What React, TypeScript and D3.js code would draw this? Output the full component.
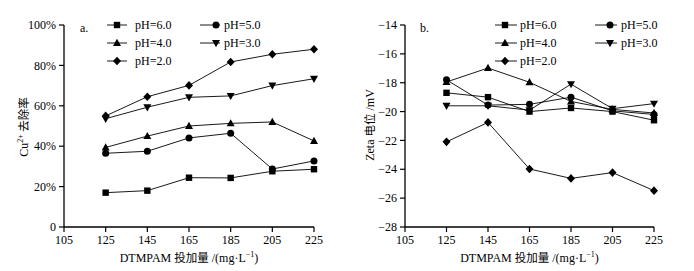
import React from "react";
import * as d3 from "d3";

const doses = [125, 145, 165, 185, 205, 225];
const xTicks = [105, 125, 145, 165, 185, 205, 225];
const leftYTicks = [0, 20, 40, 60, 80, 100];
const rightYTicks = [-28, -26, -24, -22, -20, -18, -16, -14];

const seriesNames = ["pH=6.0", "pH=5.0", "pH=4.0", "pH=3.0", "pH=2.0"];
const seriesMarkers = ["square", "circle", "triangle", "triangleDown", "diamond"];

// Cu2+ removal (%)
const removal_pH6 = [17.0, 18.0, 24.4, 24.3, 27.6, 28.6];
const removal_pH5 = [36.5, 37.5, 44.1, 46.4, 28.7, 32.7];
const removal_pH4 = [39.4, 45.0, 50.0, 51.3, 52.0, 42.6];
const removal_pH3 = [53.6, 59.3, 64.2, 64.9, 70.0, 73.4];
const removal_pH2 = [55.0, 64.5, 70.1, 81.7, 85.5, 88.0];

// Zeta potential (mV)
const zeta_pH6 = [-18.7, -19.0, -20.0, -19.75, -20.0, -20.6];
const zeta_pH5 = [-17.8, -19.55, -19.5, -19.0, -19.95, -20.2];
const zeta_pH4 = [-17.95, -16.98, -17.97, -19.3, -19.85, -20.1];
const zeta_pH3 = [-19.6, -19.6, -19.9, -18.1, -19.8, -19.45];
const zeta_pH2 = [-22.1, -20.75, -23.98, -24.63, -24.23, -25.48];

const removalSeries = [removal_pH6, removal_pH5, removal_pH4, removal_pH3, removal_pH2];
const zetaSeries = [zeta_pH6, zeta_pH5, zeta_pH4, zeta_pH3, zeta_pH2];

const FONT = "'Liberation Serif', 'Times New Roman', serif";
const CJK = "'Noto Sans CJK SC', 'Liberation Serif', serif";

function Marker({ type, x, y }: { type: string; x: number; y: number }) {
  const c = "#000";
  if (type === "square") return <rect x={x - 3.2} y={y - 3.2} width={6.4} height={6.4} fill={c} />;
  if (type === "circle") return <circle cx={x} cy={y} r={3.5} fill={c} />;
  if (type === "triangle")
    return <path d={`M${x},${y - 4.2}L${x + 4},${y + 3}L${x - 4},${y + 3}Z`} fill={c} />;
  if (type === "triangleDown")
    return <path d={`M${x},${y + 4.2}L${x + 4},${y - 3}L${x - 4},${y - 3}Z`} fill={c} />;
  return <path d={`M${x},${y - 4.3}L${x + 4},${y}L${x},${y + 4.3}L${x - 4},${y}Z`} fill={c} />;
}

type PanelProps = {
  x0: number;
  x1: number;
  yDomain: [number, number];
  yTicks: number[];
  fmt: (d: number) => string;
  data: number[][];
  tag: string;
  tagX: number;
  yLabel: React.ReactNode;
  yLabelX: number;
  legend: { c1Line: [number, number]; c1Mark: number; c1Text: number; c2Line: [number, number]; c2Mark: number; c2Text: number };
};

function Panel(p: PanelProps) {
  const x = d3.scaleLinear().domain([105, 225]).range([p.x0, p.x1]);
  const y = d3.scaleLinear().domain(p.yDomain).range([227, 25]);
  const line = d3
    .line<number>()
    .x((_, i) => x(doses[i]))
    .y((d) => y(d));
  const rows = [25, 43, 61];
  const legendPos = [
    [0, 0],
    [1, 0],
    [0, 1],
    [1, 1],
    [0, 2],
  ];
  return (
    <g>
      {/* axes */}
      <line x1={p.x0} x2={p.x0} y1={y(p.yDomain[1])} y2={y(p.yDomain[0])} stroke="#000" strokeWidth={1.3} />
      <line x1={p.x0} x2={p.x1} y1={227} y2={227} stroke="#000" strokeWidth={1.3} />
      {p.yTicks.map((t) => (
        <g key={"y" + t}>
          <line x1={p.x0 - 5} x2={p.x0} y1={y(t)} y2={y(t)} stroke="#000" strokeWidth={1.2} />
          <text x={p.x0 - 8} y={y(t)} dy="0.35em" textAnchor="end" fontSize={12} fontFamily={FONT}>
            {p.fmt(t)}
          </text>
        </g>
      ))}
      {xTicks.map((t) => (
        <g key={"x" + t}>
          <line x1={x(t)} x2={x(t)} y1={227} y2={232} stroke="#000" strokeWidth={1.2} />
          <text x={x(t)} y={244} textAnchor="middle" fontSize={12} fontFamily={FONT}>
            {t}
          </text>
        </g>
      ))}
      <text x={(p.x0 + p.x1) / 2} y={262} textAnchor="middle" fontSize={12} fontFamily={FONT}>
        DTMPAM <tspan fontFamily={CJK} fontSize={11.5}>投加量</tspan> /(mg·L
        <tspan dy={-5} fontSize={8}>−1</tspan>
        <tspan dy={5}>)</tspan>
      </text>
      {p.yLabel}
      <text x={p.tagX} y={32} fontSize={12} fontFamily={FONT}>
        {p.tag}
      </text>
      {/* series */}
      {p.data.map((s, si) => (
        <g key={"s" + si}>
          <path d={line(s) || ""} fill="none" stroke="#000" strokeWidth={0.9} />
          {s.map((v, i) => (
            <Marker key={i} type={seriesMarkers[si]} x={x(doses[i])} y={y(v)} />
          ))}
        </g>
      ))}
      {/* legend */}
      {seriesNames.map((n, i) => {
        const [col, row] = legendPos[i];
        const ly = rows[row];
        const L = p.legend;
        const lx = col === 0 ? L.c1Line : L.c2Line;
        const mx = col === 0 ? L.c1Mark : L.c2Mark;
        const tx = col === 0 ? L.c1Text : L.c2Text;
        return (
          <g key={"l" + i}>
            <line x1={lx[0]} x2={lx[1]} y1={ly} y2={ly} stroke="#000" strokeWidth={0.9} />
            <Marker type={seriesMarkers[i]} x={mx} y={ly} />
            <text x={tx} y={ly} dy="0.35em" fontSize={12} fontFamily={FONT}>
              {n}
            </text>
          </g>
        );
      })}
    </g>
  );
}

export default function App() {
  const leftLabel = (
    <text transform="translate(28,127) rotate(-90)" textAnchor="middle" fontSize={12} fontFamily={FONT}>
      Cu<tspan dy={-5} fontSize={8}>2+</tspan>
      <tspan dy={5} fontFamily={CJK} fontSize={11.5}> 去除率</tspan>
    </text>
  );
  const rightLabel = (
    <text transform="translate(374,125) rotate(-90)" textAnchor="middle" fontSize={12} fontFamily={FONT}>
      Zeta <tspan fontFamily={CJK} fontSize={11.5}>电位</tspan> /mV
    </text>
  );
  return (
    <div style={{ position: "fixed", left: 0, top: 0, width: 694, height: 271, background: "#fff" }}>
      <svg width={694} height={271} viewBox="0 0 694 271">
        <rect width={694} height={271} fill="#fff" />
        <Panel
          x0={64}
          x1={314}
          yDomain={[0, 100]}
          yTicks={leftYTicks}
          fmt={(d) => (d === 0 ? "0" : d + "%")}
          data={removalSeries}
          tag="a."
          tagX={80}
          yLabel={leftLabel}
          yLabelX={28}
          legend={{ c1Line: [107, 127], c1Mark: 117, c1Text: 135, c2Line: [200, 220], c2Mark: 216, c2Text: 224 }}
        />
        <Panel
          x0={405}
          x1={654}
          yDomain={[-28, -14]}
          yTicks={rightYTicks}
          fmt={(d) => (d < 0 ? "−" + Math.abs(d) : String(d))}
          data={zetaSeries}
          tag="b."
          tagX={420}
          yLabel={rightLabel}
          yLabelX={374}
          legend={{ c1Line: [495, 517], c1Mark: 505, c1Text: 520, c2Line: [595, 617], c2Mark: 610, c2Text: 621 }}
        />
      </svg>
    </div>
  );
}
